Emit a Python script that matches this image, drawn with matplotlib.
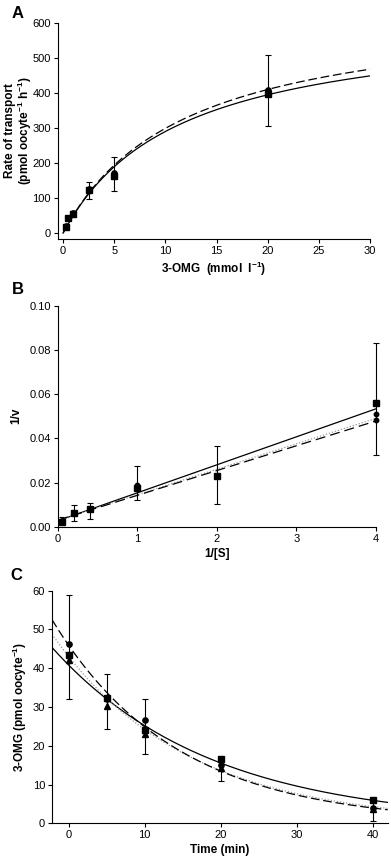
import numpy as np
import matplotlib
matplotlib.use("Agg")
import matplotlib.pyplot as plt

plt.rcParams['font.family'] = ['Liberation Sans', 'DejaVu Sans']

# ---------- Panel A data ----------
a_conc = [0.25, 0.5, 1, 2.5, 5, 20]
a_circ = [19, 44, 57, 125, 172, 410]
a_sq = [18, 42, 55, 122, 163, 397]
a_err_lo = [12, 38, 48, 97, 120, 307]
a_err_hi = [24, 50, 63, 146, 217, 508]
a_fit_solid = (618, 11.3)   # Vmax, Km
a_fit_dash = (652, 11.8)

# ---------- Panel B data ----------
b_inv_s = [0.05, 0.2, 0.4, 1, 2, 4]
b_sq = [0.0023, 0.006, 0.008, 0.0175, 0.0228, 0.056]
b_circ = [0.0027, 0.0062, 0.0082, 0.019, 0.0228, 0.051]
b_circ2 = [0.0025, 0.006, 0.0078, 0.018, 0.0228, 0.0485]
b_err_lo = [0.0015, 0.0025, 0.0035, 0.012, 0.0102, 0.0323]
b_err_hi = [0.0045, 0.010, 0.0105, 0.0275, 0.0365, 0.0833]
b_fit_solid = (0.01265, 0.0027)  # slope, intercept
b_fit_dash = (0.0112, 0.0030)
b_fit_dot = (0.0115, 0.0030)

# ---------- Panel C data ----------
c_time = [0, 5, 10, 20, 40]
c_circ = [46.2, 32.0, 26.6, 15.0, 4.0]
c_sq = [43.3, 32.2, 24.0, 16.5, 6.1]
c_tri = [42.2, 30.2, 23.0, 14.3, 3.8]
c_err_lo = [32, 24.3, 17.8, 11.0, 0.7]
c_err_hi = [59, 38.6, 32.0, 17.2, 6.0]
c_fit_solid = (40.8, 0.0482)  # A, k
c_fit_dash = (45.9, 0.0613)
c_fit_dot = (43.0, 0.0575)

W, H = 391, 859
fig = plt.figure(figsize=(W / 100, H / 100), dpi=100)

def ax_at(l, t, r, b):
    return fig.add_axes([l / W, 1 - b / H, (r - l) / W, (b - t) / H])

tick_fs = 8
lab_fs = 8.5

def style(ax):
    for s in ['top', 'right']:
        ax.spines[s].set_visible(False)
    for s in ['left', 'bottom']:
        ax.spines[s].set_linewidth(0.8)
    ax.tick_params(direction='out', length=3, width=0.8, labelsize=tick_fs, pad=2)

ebkw = dict(fmt='none', ecolor='black', elinewidth=0.8, capsize=2.5, capthick=0.8, clip_on=False)
mkw = dict(color='black', linestyle='none', clip_on=False, zorder=5)

# ---------- A ----------
axA = ax_at(58, 23, 370, 239)
style(axA)
mid = [(l + h) / 2 for l, h in zip(a_err_lo, a_err_hi)]
axA.errorbar(a_conc, mid, yerr=[[m - l for m, l in zip(mid, a_err_lo)],
                                [h - m for m, h in zip(mid, a_err_hi)]], **ebkw)
xs = np.linspace(0, 30, 300)
V, K = a_fit_solid
axA.plot(xs, V * xs / (K + xs), color='black', lw=0.9)
V, K = a_fit_dash
axA.plot(xs, V * xs / (K + xs), color='black', lw=0.9, ls=(0, (7, 3)))
axA.plot(a_conc, a_circ, marker='o', ms=3.8, **mkw)
axA.plot(a_conc, a_sq, marker='s', ms=3.8, **mkw)
axA.set_xlim(-0.5, 30)
axA.set_ylim(-17, 600)
axA.set_xticks(range(0, 31, 5))
axA.set_yticks(range(0, 601, 100))
axA.set_xlabel('3-OMG  (mmol  l$^{\\mathregular{-1}}$)', fontsize=lab_fs, fontweight='bold', labelpad=3)
axA.set_ylabel('Rate of transport\n(pmol oocyte$^{\\mathregular{-1}}$ h$^{\\mathregular{-1}}$)',
               fontsize=lab_fs, fontweight='bold', linespacing=1.0, va='center')
axA.yaxis.set_label_coords(-0.125, 0.5)
fig.text(12 / W, 1 - 13 / H, 'A', fontsize=12, fontweight='bold', va='center', ha='left')

# ---------- B ----------
axB = ax_at(58, 305.7, 375.7, 526.7)
style(axB)
mid = [(l + h) / 2 for l, h in zip(b_err_lo, b_err_hi)]
axB.errorbar(b_inv_s, mid, yerr=[[m - l for m, l in zip(mid, b_err_lo)],
                                 [h - m for m, h in zip(mid, b_err_hi)]], **ebkw)
xb = np.linspace(0.0, 4, 50)
s, i = b_fit_solid
axB.plot(xb, s * xb + i, color='black', lw=0.9)
s, i = b_fit_dot
axB.plot(xb, s * xb + i, color='#999999', lw=0.9, ls=(0, (1, 1.5)))
s, i = b_fit_dash
axB.plot(xb, s * xb + i, color='black', lw=0.9, ls=(0, (8, 4)))
axB.plot(b_inv_s, b_circ2, marker='o', ms=3.2, **mkw)
axB.plot(b_inv_s, b_circ, marker='o', ms=3.2, **mkw)
axB.plot(b_inv_s, b_sq, marker='s', ms=3.8, **mkw)
axB.set_xlim(0, 4)
axB.set_ylim(0, 0.10)
axB.set_xticks(range(0, 5))
yt = np.arange(0, 0.101, 0.02)
axB.set_yticks(yt)
axB.set_yticklabels([f'{v:.2f}' for v in yt])
axB.set_xlabel('1/[S]', fontsize=lab_fs, fontweight='bold', labelpad=3)
axB.set_ylabel('1/v', fontsize=lab_fs, fontweight='bold', labelpad=5)
fig.text(12 / W, 1 - 289 / H, 'B', fontsize=12, fontweight='bold', va='center', ha='left')

# ---------- C ----------
axC = ax_at(52, 590.7, 387.7, 823.3)
style(axC)
mid = [(l + h) / 2 for l, h in zip(c_err_lo, c_err_hi)]
axC.errorbar(c_time, mid, yerr=[[m - l for m, l in zip(mid, c_err_lo)],
                                [h - m for m, h in zip(mid, c_err_hi)]], **ebkw)
xc = np.linspace(-2.2, 42, 300)
A, k = c_fit_solid
axC.plot(xc, A * np.exp(-k * xc), color='black', lw=0.9)
A, k = c_fit_dot
axC.plot(xc, A * np.exp(-k * xc), color='#999999', lw=0.9, ls=(0, (1, 1.5)))
A, k = c_fit_dash
axC.plot(xc, A * np.exp(-k * xc), color='black', lw=0.9, ls=(0, (7, 3)))
axC.plot(c_time, c_circ, marker='o', ms=3.8, **mkw)
axC.plot(c_time, c_tri, marker='^', ms=3.8, **mkw)
axC.plot(c_time, c_sq, marker='s', ms=3.8, **mkw)
axC.set_xlim(-2.2, 42)
axC.set_ylim(0, 60)
axC.set_xticks(range(0, 41, 10))
axC.set_yticks(range(0, 61, 10))
axC.set_xlabel('Time (min)', fontsize=lab_fs, fontweight='bold', labelpad=3)
axC.set_ylabel('3-OMG (pmol oocyte$^{\\mathregular{-1}}$)', fontsize=lab_fs, fontweight='bold', labelpad=3)
fig.text(10 / W, 1 - 575 / H, 'C', fontsize=12, fontweight='bold', va='center', ha='left')

fig.savefig('out.png', dpi=100)
